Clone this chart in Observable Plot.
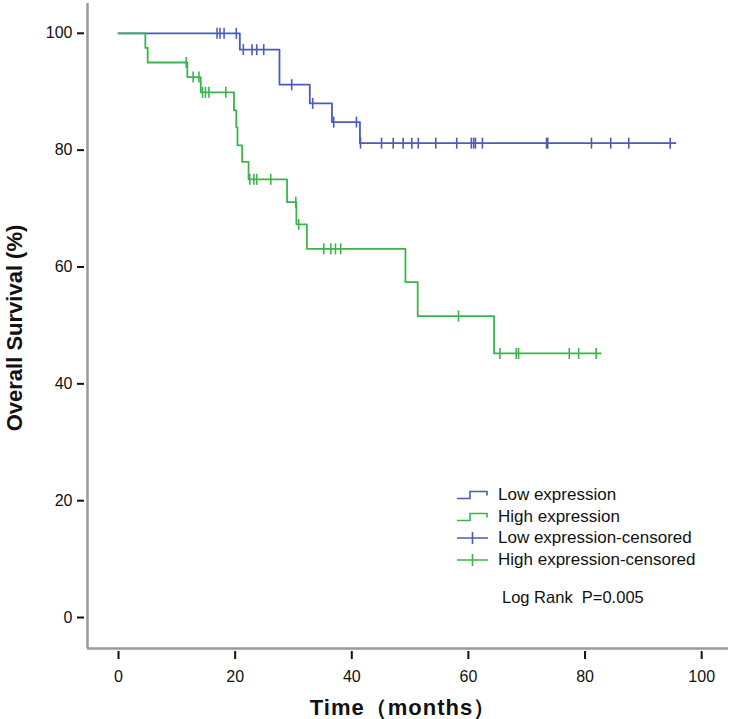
<!DOCTYPE html>
<html>
<head>
<meta charset="utf-8">
<script src="https://cdn.jsdelivr.net/npm/d3@7"></script>
<script src="https://cdn.jsdelivr.net/npm/@observablehq/plot@0.6"></script>
<style>
  html, body { margin: 0; padding: 0; background: #fff; }
  #wrap { position: relative; width: 731px; height: 719px; font-family: "Liberation Sans", Arial, sans-serif; }
  #wrap svg.plot { position: absolute; left: 0; top: 0; }
  .ov { position: absolute; white-space: nowrap; color: #111; }
  .ytitle { left: 15px; top: 328px; transform: translate(-50%, -50%) rotate(-90deg); font-weight: bold; font-size: 22px; }
  .xtitle { left: 403px; top: 708px; transform: translate(-50%, -50%); font-weight: bold; font-size: 22px; letter-spacing: 1px; }
  .leg { left: 456px; top: 484px; font-size: 17px; line-height: 21.7px; }
  .leg div { display: flex; align-items: center; height: 21.7px; }
  .leg svg { margin-right: 8px; }
  .logrank { left: 502px; top: 588px; font-size: 16.5px; }
</style>
</head>
<body>
<div id="wrap"></div>
<script>
// ---- data ----
const lowStepTime = [0, 20.8, 27.6, 32.8, 36.6, 41.4, 95.5];
const lowStepSurv = [100, 97.2, 91.2, 88.0, 84.8, 81.2, 81.2];
const lowCensorTime = [16.9, 17.4, 18.1, 20.2, 21.4, 22.9, 23.7, 24.9, 29.7, 33.3, 36.9, 40.8,
  41.5, 45.1, 47.1, 48.8, 50.3, 51.4, 54.4, 58.0, 60.5, 60.9, 61.2, 62.4, 73.4, 73.6, 81.1, 84.4, 87.5, 94.6];

const highStepTime = [0, 4.6, 5.0, 11.8, 14.1, 19.8, 20.2, 20.4, 21.2, 22.3, 28.9, 30.5, 32.3, 49.2, 51.3, 64.4, 82.7];
const highStepSurv = [100, 97.5, 95.0, 92.5, 89.9, 86.8, 83.9, 80.8, 78.0, 75.0, 71.1, 67.3, 63.1, 57.4, 51.6, 45.2, 45.2];
const highCensorTime = [11.6, 12.8, 13.8, 14.4, 14.9, 15.5, 18.4, 22.5, 23.2, 23.7, 26.1, 30.4, 30.9,
  35.2, 36.4, 37.2, 38.1, 58.3, 65.4, 68.2, 68.6, 77.3, 78.9, 81.9];

const xTicks = [0, 20, 40, 60, 80, 100];
const yTicks = [0, 20, 40, 60, 80, 100];
const seriesNames = ["Low expression", "High expression"];
const seriesColors = ["#4a5cb8", "#3bb54a"];

// ---- build tables ----
function steps(times, surv, group) { return times.map((t, i) => ({time: t, surv: surv[i], group})); }
function survAt(times, surv, t) { let s = surv[0]; for (let i = 0; i < times.length; i++) if (times[i] <= t) s = surv[i]; return s; }
function censors(ct, times, surv, group) { return ct.map(t => ({time: t, surv: survAt(times, surv, t), group})); }

const lowSteps = steps(lowStepTime, lowStepSurv, seriesNames[0]);
const highSteps = steps(highStepTime, highStepSurv, seriesNames[1]);
const lowCens = censors(lowCensorTime, lowStepTime, lowStepSurv, seriesNames[0]);
const highCens = censors(highCensorTime, highStepTime, highStepSurv, seriesNames[1]);

const vtick = { draw(ctx, size) { const r = Math.sqrt(size / Math.PI); ctx.moveTo(0, -r); ctx.lineTo(0, r); } };

const xDomain = [-5.32, 104.6];
const yDomain = [-5.3, 105.1];

const chart = Plot.plot({
  width: 731,
  height: 719,
  marginLeft: 87,
  marginRight: 3,
  marginTop: 3,
  marginBottom: 71,
  style: { fontFamily: "'Liberation Sans', Arial, sans-serif", fontSize: "16px", color: "#111", background: "transparent" },
  x: { domain: xDomain },
  y: { domain: yDomain },
  marks: [
    Plot.ruleX([xDomain[0]], { stroke: "#9a9a9a", strokeWidth: 2.5 }),
    Plot.ruleY([yDomain[0]], { stroke: "#9a9a9a", strokeWidth: 2.5 }),
    Plot.axisX({ ticks: xTicks, tickSize: 8, tickPadding: 11, dy: 3, label: null, stroke: "#111", strokeWidth: 2, fontSize: 16 }),
    Plot.axisY({ ticks: yTicks, tickSize: 7, tickPadding: 5, dx: -3, label: null, stroke: "#111", strokeWidth: 2, fontSize: 16 }),
    Plot.line(lowSteps, { x: "time", y: "surv", curve: "step-after", stroke: seriesColors[0], strokeWidth: 1.8 }),
    Plot.dot(lowCens, { x: "time", y: "surv", symbol: vtick, r: 5.5, stroke: seriesColors[0], strokeWidth: 1.6, fill: "none" }),
    Plot.line(highSteps, { x: "time", y: "surv", curve: "step-after", stroke: seriesColors[1], strokeWidth: 1.8 }),
    Plot.dot(highCens, { x: "time", y: "surv", symbol: vtick, r: 5.5, stroke: seriesColors[1], strokeWidth: 1.6, fill: "none" })
  ]
});
chart.classList.add("plot");
const wrap = document.getElementById("wrap");
wrap.appendChild(chart);

function ov(cls, html) { const d = document.createElement("div"); d.className = "ov " + cls; d.innerHTML = html; wrap.appendChild(d); }
ov("ytitle", "Overall Survival (%)");
ov("xtitle", "Time（months）");

const stepIcon = c => `<svg width="34" height="14"><path d="M1,10.5H14V3.5H31V7.5" fill="none" stroke="${c}" stroke-width="1.6"/></svg>`;
const crossIcon = c => `<svg width="34" height="14"><path d="M1,7H32M16.5,1V13" fill="none" stroke="${c}" stroke-width="1.6"/></svg>`;
ov("leg",
  `<div>${stepIcon(seriesColors[0])}Low expression</div>` +
  `<div>${stepIcon(seriesColors[1])}High expression</div>` +
  `<div>${crossIcon(seriesColors[0])}Low expression-censored</div>` +
  `<div>${crossIcon(seriesColors[1])}High expression-censored</div>`);
ov("logrank", "Log Rank&nbsp;&nbsp;P=0.005");
</script>
</body>
</html>
